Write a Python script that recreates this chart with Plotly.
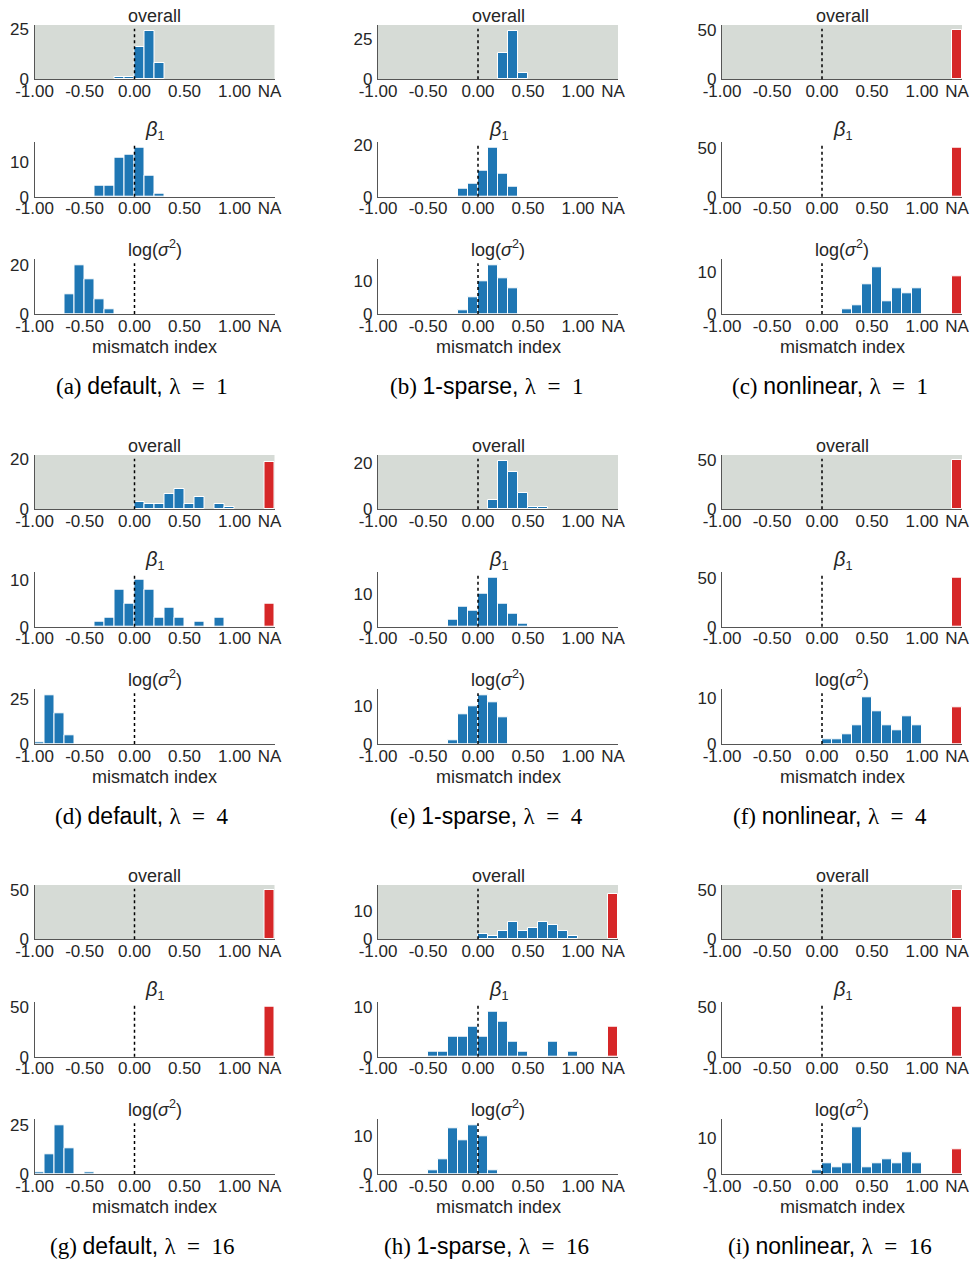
import plotly.graph_objects as go

# ---------------- data ----------------
bin_centers = [-0.95, -0.85, -0.75, -0.65, -0.55, -0.45, -0.35, -0.25, -0.15, -0.05,
               0.05, 0.15, 0.25, 0.35, 0.45, 0.55, 0.65, 0.75, 0.85, 0.95]
na_position = 1.35
x_tickvals = [-1.0, -0.5, 0.0, 0.5, 1.0, 1.35]
x_ticktext = ["-1.00", "-0.50", "0.00", "0.50", "1.00", "NA"]

panel_letters = ["a", "b", "c", "d", "e", "f", "g", "h", "i"]
model_names = ["default", "1-sparse", "nonlinear"]
lambda_values = [1, 4, 16]
subplot_titles = ["overall", "<span style='font-size:20px'><i>β</i></span><sub>1</sub>",
                  "log(<i>σ</i><sup>2</sup>)"]

# histogram counts per 0.1-wide bin, from -1.0 to 1.0
a_overall = [0, 0, 0, 0, 0, 0, 0, 0, 1, 1, 16, 24, 8, 0, 0, 0, 0, 0, 0, 0]
a_beta1   = [0, 0, 0, 0, 0, 0, 3, 3, 11, 12, 14, 6, 1, 0, 0, 0, 0, 0, 0, 0]
a_logsig  = [0, 0, 0, 8, 20, 14, 6, 2, 0, 0, 0, 0, 0, 0, 0, 0, 0, 0, 0, 0]
b_overall = [0, 0, 0, 0, 0, 0, 0, 0, 0, 0, 0, 0, 16, 30, 4, 0, 0, 0, 0, 0]
b_beta1   = [0, 0, 0, 0, 0, 0, 0, 0, 3, 5, 10, 19, 9, 4, 0, 0, 0, 0, 0, 0]
b_logsig  = [0, 0, 0, 0, 0, 0, 0, 0, 1, 5, 10, 15, 11, 8, 0, 0, 0, 0, 0, 0]
c_overall = [0, 0, 0, 0, 0, 0, 0, 0, 0, 0, 0, 0, 0, 0, 0, 0, 0, 0, 0, 0]
c_beta1   = [0, 0, 0, 0, 0, 0, 0, 0, 0, 0, 0, 0, 0, 0, 0, 0, 0, 0, 0, 0]
c_logsig  = [0, 0, 0, 0, 0, 0, 0, 0, 0, 0, 0, 0, 1, 2, 7, 11, 3, 6, 5, 6]
d_overall = [0, 0, 0, 0, 0, 0, 0, 0, 0, 0, 3, 2, 2, 6, 8, 2, 5, 0, 2, 1]
d_beta1   = [0, 0, 0, 0, 0, 0, 1, 2, 8, 5, 10, 8, 2, 4, 2, 0, 1, 0, 2, 0]
d_logsig  = [1, 27, 17, 5, 0, 0, 0, 0, 0, 0, 0, 0, 0, 0, 0, 0, 0, 0, 0, 0]
e_overall = [0, 0, 0, 0, 0, 0, 0, 0, 0, 0, 0, 4, 21, 16, 7, 1, 1, 0, 0, 0]
e_beta1   = [0, 0, 0, 0, 0, 0, 0, 2, 6, 5, 10, 15, 7, 4, 1, 0, 0, 0, 0, 0]
e_logsig  = [0, 0, 0, 0, 0, 0, 0, 1, 8, 10, 13, 11, 7, 0, 0, 0, 0, 0, 0, 0]
f_overall = [0, 0, 0, 0, 0, 0, 0, 0, 0, 0, 0, 0, 0, 0, 0, 0, 0, 0, 0, 0]
f_beta1   = [0, 0, 0, 0, 0, 0, 0, 0, 0, 0, 0, 0, 0, 0, 0, 0, 0, 0, 0, 0]
f_logsig  = [0, 0, 0, 0, 0, 0, 0, 0, 0, 0, 1, 1, 2, 4, 10, 7, 4, 3, 6, 4]
g_overall = [0, 0, 0, 0, 0, 0, 0, 0, 0, 0, 0, 0, 0, 0, 0, 0, 0, 0, 0, 0]
g_beta1   = [0, 0, 0, 0, 0, 0, 0, 0, 0, 0, 0, 0, 0, 0, 0, 0, 0, 0, 0, 0]
g_logsig  = [1, 10, 25, 13, 0, 1, 0, 0, 0, 0, 0, 0, 0, 0, 0, 0, 0, 0, 0, 0]
h_overall = [0, 0, 0, 0, 0, 0, 0, 0, 0, 0, 2, 1, 3, 6, 3, 4, 6, 5, 3, 1]
h_beta1   = [0, 0, 0, 0, 0, 1, 1, 4, 4, 6, 4, 9, 7, 3, 1, 0, 0, 3, 0, 1]
h_logsig  = [0, 0, 0, 0, 0, 1, 4, 12, 9, 13, 10, 1, 0, 0, 0, 0, 0, 0, 0, 0]
i_overall = [0, 0, 0, 0, 0, 0, 0, 0, 0, 0, 0, 0, 0, 0, 0, 0, 0, 0, 0, 0]
i_beta1   = [0, 0, 0, 0, 0, 0, 0, 0, 0, 0, 0, 0, 0, 0, 0, 0, 0, 0, 0, 0]
i_logsig  = [0, 0, 0, 0, 0, 0, 0, 0, 0, 1, 3, 2, 3, 13, 2, 3, 4, 3, 6, 3]

# counts of runs in the "NA" bin, panels a..i
na_overall = [0, 0, 50, 19, 0, 50, 50, 16, 50]
na_beta1   = [0, 0, 50, 5, 0, 50, 50, 6, 50]
na_logsig  = [0, 0, 9, 0, 0, 8, 0, 0, 7]

# y tick labels (besides 0) and y-axis upper limits, panels a..i
ytick_overall = [25, 25, 50, 20, 20, 50, 50, 10, 50]
ytick_beta1   = [10, 20, 50, 10, 10, 50, 50, 10, 50]
ytick_logsig  = [20, 10, 10, 25, 10, 10, 25, 10, 10]
ylim_overall = [26.8, 33.5, 55.1, 21.7, 23.5, 55.1, 55.4, 19.0, 55.4]
ylim_beta1   = [15.7, 21.3, 56.1, 11.8, 16.8, 56.1, 55.4, 11.0, 55.4]
ylim_logsig  = [22.3, 16.7, 13.0, 30.4, 14.6, 11.8, 27.9, 14.5, 15.3]

counts = [
    [a_overall, a_beta1, a_logsig], [b_overall, b_beta1, b_logsig], [c_overall, c_beta1, c_logsig],
    [d_overall, d_beta1, d_logsig], [e_overall, e_beta1, e_logsig], [f_overall, f_beta1, f_logsig],
    [g_overall, g_beta1, g_logsig], [h_overall, h_beta1, h_logsig], [i_overall, i_beta1, i_logsig],
]
na_counts = [na_overall, na_beta1, na_logsig]
yticks = [ytick_overall, ytick_beta1, ytick_logsig]
ylims = [ylim_overall, ylim_beta1, ylim_logsig]

# ---------------- layout geometry ----------------
W, H = 972, 1263
col_left = [34.5, 378.0, 722.0]
plot_w = 240.0
sub_top = [25.0, 141.7, 259.3]
sub_h = [54.3, 55.0, 54.7]
row_offset = [0.0, 430.0, 860.0]
caption_x = [142, 486, 830]
caption_y = [386, 816, 1246]

BLUE = "#1f77b4"
RED = "#d62728"
GRAY_BG = "#d6dbd6"
AXCOL = "#555555"
TXT = "#262626"
SANS = "Liberation Sans, Arial, sans-serif"
NB = "\u00a0"

fig = go.Figure()
layout = dict(
    width=W, height=H, margin=dict(l=0, r=0, t=0, b=0, autoexpand=False),
    paper_bgcolor="white", plot_bgcolor="white", showlegend=False,
    font=dict(family=SANS, size=17, color=TXT), bargap=0,
)
shapes = []
annotations = []

n = 0
for p in range(9):
    row, col = p // 3, p % 3
    for s in range(3):
        n += 1
        xa = "xaxis" if n == 1 else f"xaxis{n}"
        ya = "yaxis" if n == 1 else f"yaxis{n}"
        xr = "x" if n == 1 else f"x{n}"
        yr = "y" if n == 1 else f"y{n}"
        x0 = col_left[col] / W
        x1 = (col_left[col] + plot_w) / W
        top = row_offset[row] + sub_top[s]
        bot = top + sub_h[s]
        y1 = 1 - top / H
        y0 = 1 - bot / H
        layout[xa] = dict(
            domain=[x0, x1], anchor=yr, range=[-1.0, 1.4], automargin=False,
            tickvals=x_tickvals, ticktext=x_ticktext, ticks="",
            showgrid=False, zeroline=False, showline=True, linecolor=AXCOL, linewidth=1.3,
            tickfont=dict(family=SANS, size=17, color=TXT), fixedrange=True,
            ticklabelstandoff=-4,
        )
        layout[ya] = dict(
            domain=[y0, y1], anchor=xr, range=[0, ylims[s][p]], automargin=False,
            tickvals=[0, yticks[s][p]], ticks="",
            showgrid=False, zeroline=False, showline=True, linecolor=AXCOL, linewidth=1.3,
            tickfont=dict(family=SANS, size=17, color=TXT), fixedrange=True, ticklabelstandoff=1,
        )
        vals = counts[p][s]
        xs = [c for c, v in zip(bin_centers, vals) if v > 0]
        ys = [v for v in vals if v > 0]
        if xs:
            fig.add_trace(go.Bar(x=xs, y=ys, width=0.1, xaxis=xr, yaxis=yr,
                                 marker=dict(color=BLUE, line=dict(color="white", width=1))))
        na_v = na_counts[s][p]
        if na_v > 0:
            fig.add_trace(go.Bar(x=[na_position], y=[na_v], width=0.1, xaxis=xr, yaxis=yr,
                                 marker=dict(color=RED, line=dict(color="white", width=1))))
        if s == 0:
            shapes.append(dict(type="rect", xref=f"{xr} domain", yref=f"{yr} domain",
                               x0=0, x1=1, y0=0, y1=1, fillcolor=GRAY_BG,
                               line=dict(width=0), layer="below"))
        shapes.append(dict(type="line", xref=xr, yref=f"{yr} domain", x0=0, x1=0,
                           y0=0, y1=0.93, line=dict(color="black", width=1.5, dash="dot"),
                           layer="above"))
        annotations.append(dict(text=subplot_titles[s], xref=f"{xr} domain", yref=f"{yr} domain",
                                x=0.5, y=1, xanchor="center", yanchor="bottom", yshift=-3,
                                showarrow=False, font=dict(family=SANS, size=18, color=TXT)))
        if s == 2:
            annotations.append(dict(text="mismatch index", xref=f"{xr} domain", yref=f"{yr} domain",
                                    x=0.5, y=0, xanchor="center", yanchor="top", yshift=-21,
                                    showarrow=False, font=dict(family=SANS, size=18, color=TXT)))
    cap = (f"<span style='font-family:Liberation Serif'>({panel_letters[p]}){NB}</span>"
           f"{model_names[col]},{NB}"
           f"<span style='font-family:Liberation Serif'>λ{NB}{NB}={NB}{NB}{lambda_values[row]}</span>")
    annotations.append(dict(text=cap, xref="paper", yref="paper",
                            x=caption_x[col] / W, y=1 - caption_y[row] / H,
                            xanchor="center", yanchor="middle", showarrow=False,
                            font=dict(family=SANS, size=23, color="black")))

layout["shapes"] = shapes
layout["annotations"] = annotations
fig.update_layout(**layout)
fig.write_html("out.html", config={"displayModeBar": False},
               post_script="document.body.style.margin='0';document.body.style.overflow='hidden';")
